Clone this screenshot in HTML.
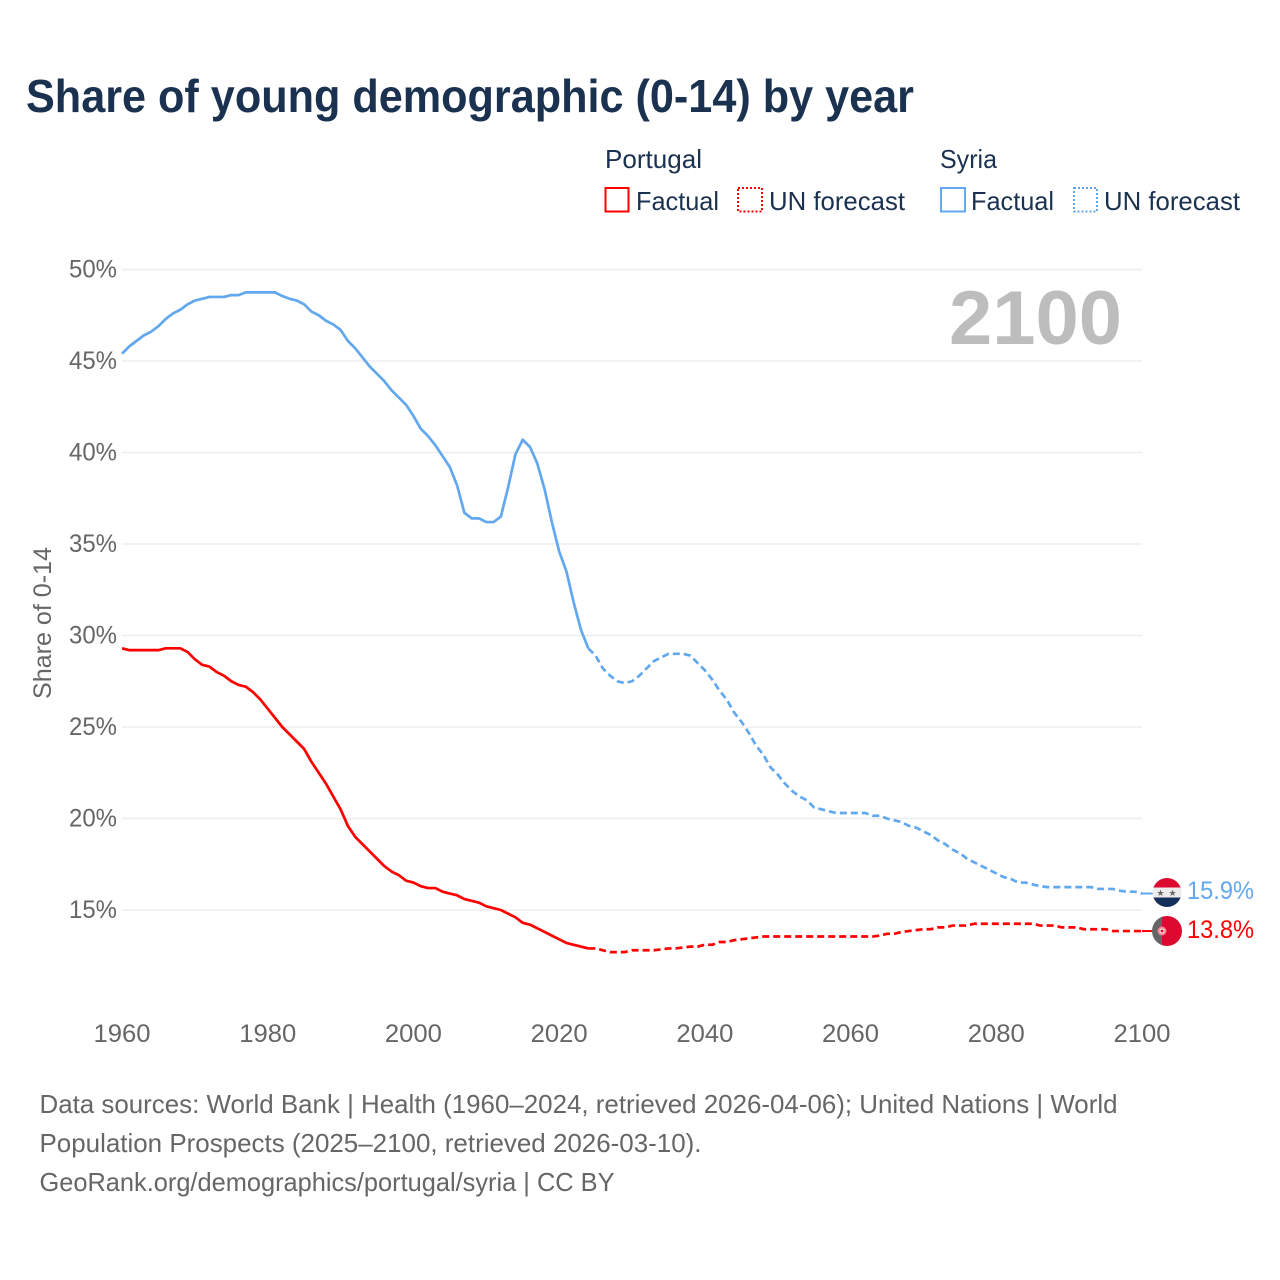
<!DOCTYPE html>
<html lang="en">
<head>
<meta charset="utf-8">
<title>Share of young demographic (0-14) by year</title>
<style>
html,body{margin:0;padding:0;background:#fff;width:1280px;height:1280px;overflow:hidden}
svg{display:block;font-family:"Liberation Sans",sans-serif}
</style>
</head>
<body>
<svg id="chart" xmlns="http://www.w3.org/2000/svg" width="1280" height="1280" viewBox="0 0 1280 1280">
  <rect width="1280" height="1280" fill="#fff"/>
  <text x="26" y="112" font-size="46" font-weight="700" fill="#1a3150" textLength="888" lengthAdjust="spacingAndGlyphs">Share of young demographic (0-14) by year</text>

  <g font-size="26" fill="#1a3150">
    <text x="605" y="168" textLength="97" lengthAdjust="spacingAndGlyphs">Portugal</text>
    <text x="940" y="168" textLength="57" lengthAdjust="spacingAndGlyphs">Syria</text>
    <rect x="605.5" y="188" width="23" height="23.5" fill="none" stroke="#ff0000" stroke-width="2"/>
    <text x="636" y="210" textLength="83" lengthAdjust="spacingAndGlyphs">Factual</text>
    <rect x="738" y="188" width="24" height="23.5" fill="none" stroke="#ff0000" stroke-width="2" stroke-dasharray="2 2"/>
    <text x="769" y="210" textLength="136" lengthAdjust="spacingAndGlyphs">UN forecast</text>
    <rect x="941" y="188" width="24" height="23.5" fill="none" stroke="#62a8ee" stroke-width="2"/>
    <text x="971" y="210" textLength="83" lengthAdjust="spacingAndGlyphs">Factual</text>
    <rect x="1074" y="188" width="23" height="23.5" fill="none" stroke="#62a8ee" stroke-width="2" stroke-dasharray="2 2"/>
    <text x="1104" y="210" textLength="136" lengthAdjust="spacingAndGlyphs">UN forecast</text>
  </g>

  <g id="grid"></g>
  <g id="yticks"></g>
  <g id="xticks"></g>
  <text transform="translate(51 623) rotate(-90)" text-anchor="middle" font-size="25" fill="#666" textLength="152" lengthAdjust="spacingAndGlyphs">Share of 0-14</text>
  <text x="949" y="344" font-size="76" font-weight="700" fill="#bdbdbd" textLength="173" lengthAdjust="spacingAndGlyphs">2100</text>

  <g id="series"></g>

  <g>
    <clipPath id="clipSy"><circle cx="1167" cy="892.5" r="14.5"/></clipPath>
    <g clip-path="url(#clipSy)">
      <rect x="1150" y="877" width="34" height="11" fill="#dc0a30"/>
      <rect x="1150" y="887.5" width="34" height="10" fill="#ececec"/>
      <rect x="1150" y="897.5" width="34" height="11" fill="#14305a"/>
    </g>
    <text x="1160.5" y="896" font-size="9" text-anchor="middle" fill="#666">★</text>
    <text x="1172.5" y="896" font-size="9" text-anchor="middle" fill="#666">★</text>
  </g>
  <g>
    <clipPath id="clipPt"><circle cx="1167" cy="931" r="15"/></clipPath>
    <g clip-path="url(#clipPt)">
      <rect x="1150" y="915" width="12" height="32" fill="#666"/>
      <rect x="1162" y="915" width="22" height="32" fill="#dc0a30"/>
    </g>
    <circle cx="1162" cy="931" r="4.5" fill="#ff8090"/>
    <circle cx="1162" cy="931" r="2" fill="#dc0a30" stroke="#fff" stroke-width="1"/>
  </g>
  <text id="labelSy" x="1187" y="899" font-size="25" fill="#62a8ee" textLength="67" lengthAdjust="spacingAndGlyphs"></text>
  <text id="labelPt" x="1187" y="938" font-size="25" fill="#ff0000" textLength="67" lengthAdjust="spacingAndGlyphs"></text>

  <g font-size="26" fill="#666">
    <text x="39.5" y="1113" textLength="1078" lengthAdjust="spacingAndGlyphs">Data sources: World Bank | Health (1960–2024, retrieved 2026-04-06); United Nations | World</text>
    <text x="39.5" y="1152" textLength="662" lengthAdjust="spacingAndGlyphs">Population Prospects (2025–2100, retrieved 2026-03-10).</text>
    <text x="39.5" y="1191" textLength="575" lengthAdjust="spacingAndGlyphs">GeoRank.org/demographics/portugal/syria | CC BY</text>
  </g>
</svg>
<script>
const yTickValues = [15, 20, 25, 30, 35, 40, 45, 50];
const xTickValues = [1960, 1980, 2000, 2020, 2040, 2060, 2080, 2100];
const startYear = 1960;
const lastFactualYear = 2024;
const syriaValues = [
  45.4,45.8,46.1,46.4,46.6,46.9,47.3,47.6,47.8,48.1,
  48.3,48.4,48.5,48.5,48.5,48.6,48.6,48.75,48.75,48.75,
  48.75,48.75,48.55,48.4,48.3,48.1,47.7,47.5,47.2,47.0,
  46.7,46.1,45.7,45.2,44.7,44.3,43.9,43.4,43.0,42.6,
  42.0,41.3,40.9,40.4,39.8,39.2,38.2,36.7,36.4,36.4,
  36.2,36.2,36.5,38.1,39.9,40.7,40.3,39.4,38.0,36.2,
  34.6,33.5,31.8,30.3,29.3,
  28.9,28.2,27.8,27.5,27.4,27.5,27.8,28.2,28.6,28.8,
  29.0,29.0,29.0,28.9,28.5,28.1,27.6,27.0,26.5,25.8,
  25.3,24.7,24.0,23.5,22.8,22.4,21.9,21.5,21.2,21.0,
  20.6,20.5,20.4,20.3,20.3,20.3,20.3,20.3,20.15,20.15,
  20.0,19.9,19.8,19.6,19.5,19.3,19.1,18.8,18.6,18.3,
  18.1,17.8,17.6,17.4,17.2,17.0,16.8,16.7,16.5,16.5,
  16.4,16.3,16.25,16.25,16.25,16.25,16.25,16.25,16.25,16.15,
  16.15,16.15,16.05,16.0,16.0,15.9
];
const portugalValues = [
  29.3,29.2,29.2,29.2,29.2,29.2,29.3,29.3,29.3,29.1,
  28.7,28.4,28.3,28.0,27.8,27.5,27.3,27.2,26.9,26.5,
  26.0,25.5,25.0,24.6,24.2,23.8,23.1,22.5,21.9,21.2,
  20.5,19.6,19.0,18.6,18.2,17.8,17.4,17.1,16.9,16.6,
  16.5,16.3,16.2,16.2,16.0,15.9,15.8,15.6,15.5,15.4,
  15.2,15.1,15.0,14.8,14.6,14.3,14.2,14.0,13.8,13.6,
  13.4,13.2,13.1,13.0,12.9,
  12.9,12.8,12.7,12.7,12.7,12.8,12.8,12.8,12.8,12.85,
  12.9,12.9,12.95,13.0,13.0,13.1,13.1,13.25,13.25,13.35,
  13.4,13.45,13.5,13.55,13.55,13.55,13.55,13.55,13.55,13.55,
  13.55,13.55,13.55,13.55,13.55,13.55,13.55,13.55,13.55,13.6,
  13.7,13.7,13.8,13.85,13.9,13.95,13.95,14.05,14.05,14.15,
  14.15,14.15,14.25,14.25,14.25,14.25,14.25,14.25,14.25,14.25,
  14.25,14.15,14.15,14.15,14.05,14.05,14.05,13.95,13.95,13.95,
  13.95,13.85,13.85,13.85,13.85,13.85
];
const syriaLabel = "15.9%";
const portugalLabel = "13.8%";

const NS = "http://www.w3.org/2000/svg";
function xScale(year){ return 122 + (year - 1960) * (1142 - 122) / 140; }
function yScale(v){ return 910 - (v - 15) * (910 - 269.5) / 35; }

const grid = document.getElementById("grid");
const yticks = document.getElementById("yticks");
const xticks = document.getElementById("xticks");

yTickValues.forEach(function(v){
  const l = document.createElementNS(NS, "line");
  
  
  l.setAttribute("x1", 122);
  l.setAttribute("x2", 1142);
  l.setAttribute("y1", yScale(v));
  l.setAttribute("y2", yScale(v));
  l.setAttribute("stroke", "#ededed");
  l.setAttribute("stroke-width", "1.5");
  grid.appendChild(l);
  const t = document.createElementNS(NS, "text");
  
  
  t.setAttribute("x", 69);
  t.setAttribute("y", yScale(v) + 8);
  t.setAttribute("font-size", "25");
  t.setAttribute("fill", "#666");
  t.setAttribute("textLength", "48");
  t.setAttribute("lengthAdjust", "spacingAndGlyphs");
  t.textContent = v + "%";
  yticks.appendChild(t);
});

xTickValues.forEach(function(y){
  const t = document.createElementNS(NS, "text");
  
  
  t.setAttribute("x", xScale(y) - 28.5);
  t.setAttribute("y", 1042);
  t.setAttribute("font-size", "25");
  t.setAttribute("fill", "#666");
  t.setAttribute("textLength", "57");
  t.setAttribute("lengthAdjust", "spacingAndGlyphs");
  t.textContent = y;
  xticks.appendChild(t);
});

function pointsFor(values, from, to){
  const pts = [];
  for (let i = from; i <= to && i < values.length; i++) {
    pts.push(xScale(startYear + i).toFixed(2) + "," + yScale(values[i]).toFixed(2));
  }
  return pts;
}

const seriesGroup = document.getElementById("series");
function drawSeries(values, color, key){
  const split = lastFactualYear - startYear;
  const factual = document.createElementNS(NS, "polyline");
  
  
  factual.setAttribute("data-series", key);
  factual.setAttribute("points", pointsFor(values, 0, split).join(" "));
  factual.setAttribute("fill", "none");
  factual.setAttribute("stroke", color);
  factual.setAttribute("stroke-width", "2.7");
  factual.setAttribute("stroke-linejoin", "round");
  seriesGroup.appendChild(factual);

  const fcPts = pointsFor(values, split, values.length - 1);
  const forecast = document.createElementNS(NS, "polyline");
  
  
  forecast.setAttribute("data-series", key);
  forecast.setAttribute("points", fcPts.join(" "));
  forecast.setAttribute("fill", "none");
  forecast.setAttribute("stroke", color);
  forecast.setAttribute("stroke-width", "2.7");
  forecast.setAttribute("stroke-dasharray", "7 4");
  seriesGroup.appendChild(forecast);

  const last = values[values.length - 1];
  const conn = document.createElementNS(NS, "line");
  
  
  conn.setAttribute("x1", xScale(2100));
  conn.setAttribute("x2", xScale(2100) + 12);
  conn.setAttribute("y1", yScale(last));
  conn.setAttribute("y2", yScale(last));
  conn.setAttribute("stroke", color);
  conn.setAttribute("stroke-width", "2");
  seriesGroup.appendChild(conn);
}
drawSeries(portugalValues, "#ff0000", "portugal");
drawSeries(syriaValues, "#62a8ee", "syria");

document.getElementById("labelSy").textContent = syriaLabel;
document.getElementById("labelPt").textContent = portugalLabel;
</script>
</body>
</html>
